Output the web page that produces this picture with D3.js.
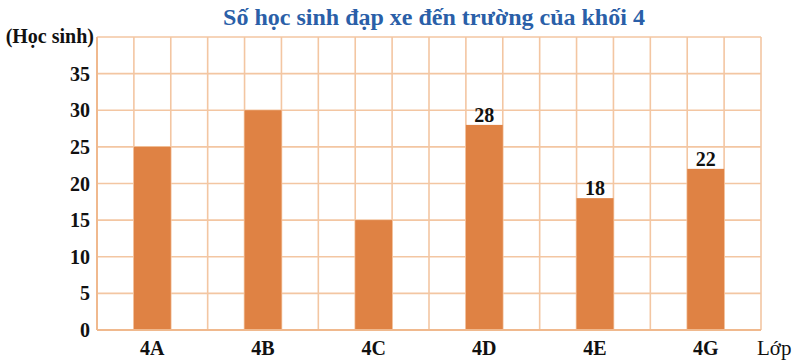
<!DOCTYPE html>
<html><head><meta charset="utf-8">
<script src="https://cdn.jsdelivr.net/npm/d3@7"></script>
<style>body{margin:0;background:#fff}svg{display:block}svg text{font-family:"Liberation Serif","Times New Roman",Times,serif}</style>
</head><body>
<svg id="c" width="800" height="364"></svg>
<script>
const classes = ["4A","4B","4C","4D","4E","4G"];
const students = [25,30,15,28,18,22];
const labelled = [false,false,false,true,true,true];
const yTicks = [0,5,10,15,20,25,30,35,40];
const title = "Số học sinh đạp xe đến trường của khối 4";
const yTitle = "(Học sinh)";
const xTitle = "Lớp";

const svg = d3.select("#c");
const L=97,R=761,T=37,B=330;
const x = d3.scaleBand().domain(classes).range([L,R]).padding(0);
const y = d3.scaleLinear().domain([0,40]).range([B,T]);
const bw = x.bandwidth();
const cell = bw/3;
const gridC = "#f3c6a2";

// vertical grid
const vlines = d3.range(0, classes.length*3+1).map(i => L + i*cell);
svg.append("g").selectAll("line").data(vlines).join("line")
  .attr("x1",d=>d).attr("x2",d=>d).attr("y1",T).attr("y2",B)
  .attr("stroke",gridC).attr("stroke-width",1.6);
// horizontal grid
svg.append("g").selectAll("line").data(yTicks).join("line")
  .attr("x1",L).attr("x2",R).attr("y1",d=>y(d)).attr("y2",d=>y(d))
  .attr("stroke",gridC).attr("stroke-width",1.6);

// bars
svg.append("g").selectAll("rect").data(classes).join("rect")
  .attr("x",d=>x(d)+cell).attr("width",cell)
  .attr("y",(d,i)=>y(students[i])).attr("height",(d,i)=>B-y(students[i]))
  .attr("fill","#df8244");

svg.append("line").attr("x1",L).attr("x2",R).attr("y1",B).attr("y2",B).attr("stroke","#f0b98e").attr("stroke-width",2);
svg.append("line").attr("x1",L).attr("x2",L).attr("y1",T).attr("y2",B).attr("stroke","#f0b98e").attr("stroke-width",2);

// value labels
svg.append("g").selectAll("text").data(classes.filter((d,i)=>labelled[i])).join("text")
  .attr("x",d=>x(d)+bw/2).attr("y",d=>y(students[classes.indexOf(d)])-3)
  .attr("text-anchor","middle").attr("font-weight","bold")
  .attr("font-size",20).attr("fill","#111").text(d=>students[classes.indexOf(d)]);

// y tick labels
svg.append("g").selectAll("text").data(yTicks.filter(d=>d<40)).join("text")
  .attr("x",90).attr("y",d=>y(d)+7).attr("text-anchor","end")
  .attr("font-weight","bold").attr("font-size",20).attr("fill","#111")
  .text(d=>d);
svg.append("text").attr("x",94).attr("y",y(40)+6).attr("text-anchor","end")
  .attr("font-weight","bold").attr("font-size",20).attr("fill","#111").text(yTitle);

// x labels
svg.append("g").selectAll("text").data(classes).join("text")
  .attr("x",d=>x(d)+bw/2).attr("y",355).attr("text-anchor","middle")
  .attr("font-weight","bold").attr("font-size",20).attr("fill","#111").text(d=>d);
svg.append("text").attr("x",757).attr("y",355).attr("font-size",21)
  .attr("fill","#111").text(xTitle);

// title
svg.append("text").attr("x",434).attr("y",25).attr("text-anchor","middle")
  .attr("font-weight","bold").attr("font-size",24).attr("fill","#2a5fa8").text(title);
</script>
</body></html>
